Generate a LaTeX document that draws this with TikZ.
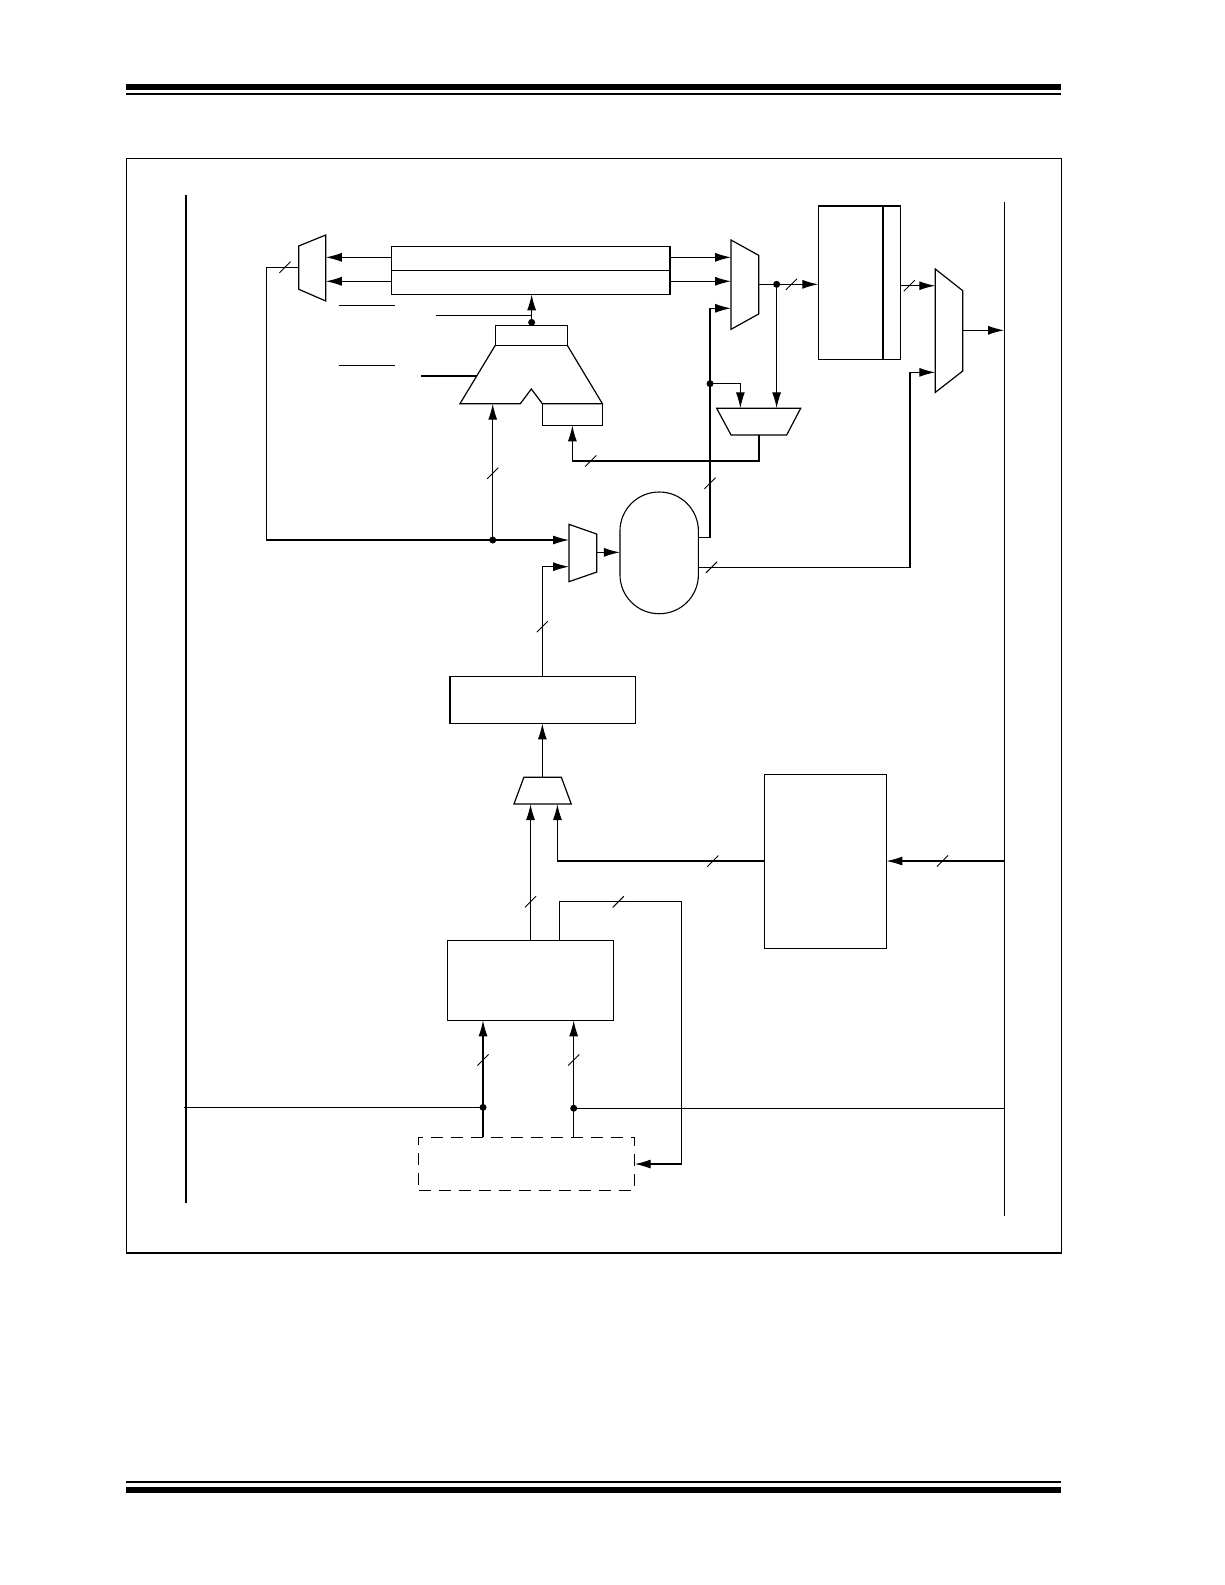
\documentclass[tikz,border=0pt]{standalone}
\usetikzlibrary{arrows.meta,fit}
\begin{document}
\begin{tikzpicture}[x=1.0107pt,y=-1.0107pt,line width=1.2pt,
  arr/.style={-{Latex[length=16pt,width=9pt]}},
  busmk/.style={line width=0.9pt},
  jdot/.style={fill=black,circle,inner sep=0pt,minimum size=7pt},
  blk/.style={draw,line width=1.3pt,inner sep=0pt,rectangle},
  muxshape/.style={draw,line width=1.2pt,line join=miter},
  dashblk/.style={draw,line width=1.2pt,inner sep=0pt,dash pattern=on 12pt off 8pt}]
\useasboundingbox (0,0) rectangle (1212,1568.2);
% header / footer rules
\fill (124.7,83.1) rectangle (1050,89);
\fill (124.7,92.3) rectangle (1050,94.3);
\fill (124.7,1465.3) rectangle (1050,1467.3);
\fill (124.7,1471.3) rectangle (1050,1477.2);
% frame
\draw[line width=1.5pt] (125,156.7) rectangle (1050,1239.8);
% inner bus lines
\coordinate (LT) at (184,193); \coordinate (LB) at (184,1190.6);
\coordinate (RT) at (993.5,199.5); \coordinate (RB) at (993.5,1202.8);
\draw (LT) -- (LB);
\draw (RT) -- (RB);

% ---------- corner coordinates ----------
\coordinate (r1a) at (387.5,243.7); \coordinate (r1b) at (663,291.2);
\coordinate (r2a) at (809.7,203.8); \coordinate (r2b) at (891.1,355.5);
\coordinate (wa) at (490,321.9); \coordinate (wb) at (561.3,341.7);
\coordinate (sa) at (536.6,399.4); \coordinate (sb) at (596,420.8);
\coordinate (b4a) at (445.2,669.2); \coordinate (b4b) at (629,715.7);
\coordinate (b5a) at (442.7,930.4); \coordinate (b5b) at (607,1009.5);
\coordinate (b6a) at (756.1,766); \coordinate (b6b) at (877,938.3);
\coordinate (dba) at (414.4,1125.3); \coordinate (dbb) at (627.9,1177.7);

\node[blk,fit=(r1a)(r1b)] (reg1) {};
\draw (387.5,267.5) -- (663,267.5);
\node[blk,fit=(r2a)(r2b)] (reg2) {};
\draw[line width=2.2pt] (873.3,203.8) -- (873.3,355.5);
\node[blk,fit=(wa)(wb)] (wreg) {};
\node[blk,fit=(sa)(sb)] (sreg) {};
\node[blk,fit=(b4a)(b4b)] (box4) {};
\node[blk,fit=(b5a)(b5b)] (box5) {};
\node[blk,fit=(b6a)(b6b)] (box6) {};
\node[dashblk,fit=(dba)(dbb)] (dbox) {};

% ---------- ALU ----------
\draw[muxshape] (490,341.7) -- (455.1,399.4) -- (514.8,399.4) -- (525.7,384.9)
  -- (536.6,399.4) -- (596,399.4) -- (561.3,341.7);
% ---------- muxes ----------
\draw[muxshape] (295.5,243.4) -- (322.3,232.5) -- (322.3,297.8) -- (295.5,286.2) -- cycle; % left mux
\draw[muxshape] (723.3,237.5) -- (750.6,252.6) -- (750.6,310.7) -- (723.3,325.8) -- cycle; % mux1
\draw[muxshape] (925.4,266.2) -- (952.5,287.6) -- (952.5,367.1) -- (925.4,388.2) -- cycle; % mux2
\draw[muxshape] (563,518.8) -- (590.4,528.4) -- (590.4,566) -- (563,575.5) -- cycle; % mux3
\draw[muxshape] (709.1,404) -- (792.2,404) -- (778.3,430.4) -- (723.3,430.4) -- cycle; % small mux
\draw[muxshape] (518.3,769.1) -- (555.4,769.1) -- (565.2,795.5) -- (508.5,795.5) -- cycle; % mux4
% ---------- oval ----------
\draw[line width=1.1pt,rounded corners=39pt] (613.4,486.8) rectangle (691,607.2);
\coordinate (oval) at (652.2,547);

% ---------- connectors ----------
% register -> left mux
\draw[arr] (387.5,254.6) -- (322.3,254.6);
\draw[arr] (387.5,278.3) -- (322.3,278.3);
% register -> mux1
\draw[arr] (663,254.6) -- (723.3,254.6);
\draw[arr] (663,278.3) -- (723.3,278.3);
% left mux input loop
\draw (295.5,264.5) -- (263.5,264.5) -- (263.5,534.3) -- (487.5,534.3);
\draw[busmk] (282,264.5) ++(-5.5,5.5) -- ++(11,-11);
\node[jdot] (d1) at (487.5,534.3) {};
\draw[arr] (d1.center) -- (563,534.3);
\draw[arr] (d1.center) -- (487.5,399.4);
\draw[busmk] (487.5,468.3) ++(-5.5,5.5) -- ++(11,-11);
% side lines (labels)
\draw (335.4,302) -- (390.8,302);
\draw (335.4,362) -- (390.8,362);
\draw (431,312) -- (526,312);
\draw (416.5,372) -- (471.7,372);
% W reg -> register
\node[jdot] (d2) at (526,319) {};
\draw[arr] (d2.center) -- (526,291.2);
% mux1 output
\node[jdot] (d3) at (768.4,281.3) {};
\draw (750.6,281.3) -- (d3.center);
\draw[arr] (d3.center) -- (809.7,281.3);
\draw[busmk] (783,281.3) ++(-5.5,5.5) -- ++(11,-11);
\draw[arr] (d3.center) -- (768.4,404);
% oval -> mux1 third input
\draw[arr] (691,531.6) -- (702.5,531.6) -- (702.5,305) -- (723.3,305);
\draw[busmk] (702.5,478.2) ++(-5.5,5.5) -- ++(11,-11);
\node[jdot] (d4) at (702.5,379.6) {};
\draw[arr] (d4.center) -- (732.5,379.6) -- (732.5,404);
% small mux output -> status box
\draw[arr] (751,430.4) -- (751,456.1) -- (566.3,456.1) -- (566.3,420.8);
\draw[busmk] (584.4,456.1) ++(-5.5,5.5) -- ++(11,-11);
% reg2 -> mux2
\draw[arr] (891.1,282.7) -- (925.4,282.7);
\draw[busmk] (899.7,282.7) ++(-5.5,5.5) -- ++(11,-11);
% mux2 out
\draw[arr] (952.5,326.8) -- (993.5,326.8);
% oval -> mux2
\draw[arr] (691,561.3) -- (900.4,561.3) -- (900.4,368.4) -- (925.4,368.4);
\draw[busmk] (704,561.3) ++(-5.5,5.5) -- ++(11,-11);
% mux3 out -> oval
\draw[arr] (590.4,546.5) -- (613.4,546.5);
% box4 -> mux3
\draw[arr] (536.6,669.2) -- (536.6,560.7) -- (563,560.7);
\draw[busmk] (536.6,620) ++(-5.5,5.5) -- ++(11,-11);
% mux4 -> box4
\draw[arr] (536.6,769.1) -- (536.6,715.7);
% box5 -> mux4
\draw[arr] (524.9,930.4) -- (524.9,795.5);
\draw[busmk] (524.9,892.2) ++(-5.5,5.5) -- ++(11,-11);
% box6 -> mux4
\draw[arr] (756.1,851.9) -- (551.5,851.9) -- (551.5,795.5);
\draw[busmk] (705.3,851.9) ++(-5.5,5.5) -- ++(11,-11);
% bus -> box6
\draw[arr] (993.5,851.9) -- (877,851.9);
\draw[busmk] (932.5,851.9) ++(-5.5,5.5) -- ++(11,-11);
% box5 -> dashed box
\draw[arr] (553.8,930.4) -- (553.8,892.2) -- (674.3,892.2) -- (674.3,1151.7) -- (627.9,1151.7);
\draw[busmk] (611.8,892.2) ++(-5.5,5.5) -- ++(11,-11);
% lower bus -> box5
\node[jdot] (d5) at (477.9,1095.6) {};
\node[jdot] (d6) at (567.6,1096.5) {};
\draw (182.5,1095.6) -- (d5.center);
\draw (d6.center) -- (993.5,1096.5);
\draw[arr] (d5.center) -- (477.9,1009.5);
\draw[arr] (d6.center) -- (567.6,1009.5);
\draw (d5.center) -- (477.9,1125.3);
\draw (d6.center) -- (567.6,1125.3);
\draw[busmk] (477.9,1048.8) ++(-5.5,5.5) -- ++(11,-11);
\draw[busmk] (567.6,1048.8) ++(-5.5,5.5) -- ++(11,-11);
\end{tikzpicture}
\end{document}
